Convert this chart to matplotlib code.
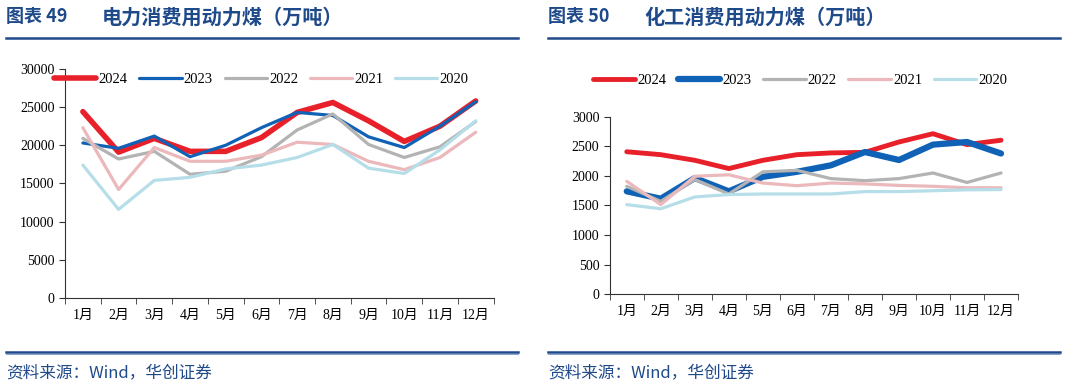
import matplotlib.pyplot as plt
from matplotlib.lines import Line2D

plt.rcParams['font.family'] = ['Liberation Serif', 'Noto Sans CJK SC']

months = [f"{i}月" for i in range(1, 13)]
years = ["2024", "2023", "2022", "2021", "2020"]

# 电力消费用动力煤（万吨）
power_2024 = [24400, 19100, 20900, 19200, 19200, 21000, 24300, 25600, 23200, 20500, 22500, 25800]
power_2023 = [20300, 19600, 21200, 18500, 20000, 22300, 24300, 23900, 21100, 19700, 22500, 25700]
power_2022 = [20900, 18200, 19200, 16200, 16600, 18500, 22000, 24100, 20100, 18400, 19800, 23100]
power_2021 = [22300, 14200, 19700, 17900, 17900, 18700, 20400, 20100, 17900, 16800, 18400, 21700]
power_2020 = [17400, 11600, 15400, 15800, 16900, 17400, 18400, 20100, 17000, 16300, 19400, 23200]

# 化工消费用动力煤（万吨）
chem_2024 = [2410, 2360, 2265, 2125, 2265, 2360, 2390, 2400, 2575, 2715, 2530, 2605]
chem_2023 = [1740, 1615, 1965, 1740, 1985, 2070, 2180, 2405, 2270, 2530, 2575, 2380]
chem_2022 = [1825, 1570, 1940, 1695, 2070, 2095, 1955, 1920, 1955, 2050, 1890, 2050]
chem_2021 = [1910, 1515, 1995, 2020, 1880, 1835, 1880, 1865, 1840, 1825, 1800, 1800]
chem_2020 = [1515, 1445, 1645, 1685, 1695, 1695, 1695, 1735, 1735, 1750, 1765, 1770]

colors = ["#E8202A", "#1062B6", "#B3B3B3", "#EBB8BB", "#B5DEE8"]
navy = "#1F4A8A"

fig = plt.figure(figsize=(10.66, 3.87), dpi=100)


def draw_panel(rect, series, widths, ylim, step, legend_xy):
    ax = fig.add_axes(rect)
    x = range(len(months))
    handles = []
    for vals, c, lw in zip(series, colors, widths):
        h, = ax.plot(x, vals, color=c, lw=lw, solid_capstyle='round')
        handles.append(h)
    ax.set_xlim(-0.5, len(months) - 0.5)
    ax.set_ylim(*ylim)
    ax.set_yticks(range(ylim[0], ylim[1] + 1, step))
    ax.set_xticks(x)
    ax.set_xticklabels(months)
    ax.set_xticks([i - 0.5 for i in range(len(months) + 1)], minor=True)
    ax.tick_params(axis='x', which='major', length=0, pad=8, labelsize=10)
    ax.tick_params(axis='x', which='minor', length=4, direction='out', color='#333333')
    ax.tick_params(axis='y', length=4, direction='out', labelsize=10, color='#333333')
    for s in ['top', 'right']:
        ax.spines[s].set_visible(False)
    for s in ['left', 'bottom']:
        ax.spines[s].set_color('#333333')
        ax.spines[s].set_linewidth(0.8)
    ax.legend(handles, years, loc='center', bbox_to_anchor=legend_xy,
              bbox_transform=ax.transAxes, ncol=5, frameon=False,
              handlelength=2.9, handletextpad=0.15, columnspacing=0.8,
              fontsize=10.5, borderpad=0, borderaxespad=0)
    return ax


draw_panel([0.061, 0.230, 0.402, 0.592],
           [power_2024, power_2023, power_2022, power_2021, power_2020],
           [4.0, 2.3, 2.3, 2.3, 2.3], (0, 30000), 5000, (0.458, 0.952))
draw_panel([0.572, 0.240, 0.383, 0.458],
           [chem_2024, chem_2023, chem_2022, chem_2021, chem_2020],
           [3.5, 4.5, 2.3, 2.3, 2.3], (0, 3000), 500, (0.466, 1.203))

# titles, rules and source notes
for x0, num, name in [(6, "图表 49", "电力消费用动力煤（万吨）"),
                      (548, "图表 50", "化工消费用动力煤（万吨）")]:
    fig.text(x0 / 1066, 1 - 17 / 387, num, color=navy, fontsize=13,
             fontweight='bold', va='center', family=['Noto Sans CJK SC'])
    fig.text((x0 + 96) / 1066, 1 - 17 / 387, name, color=navy, fontsize=14.5,
             fontweight='bold', va='center', family=['Noto Sans CJK SC'])

for x0, x1 in [(6, 518), (548, 1060)]:
    fig.add_artist(Line2D([x0 / 1066, x1 / 1066], [1 - 38 / 387] * 2,
                          color=navy, lw=1.8))
    fig.add_artist(Line2D([x0 / 1066, x1 / 1066], [1 - 351.5 / 387] * 2,
                          color=navy, lw=1.8))
    fig.add_artist(Line2D([x0 / 1066, x1 / 1066], [1 - 353.5 / 387] * 2,
                          color="#6F8FC0", lw=0.6))
    fig.text(x0 / 1066, 1 - 373 / 387, "资料来源：Wind，华创证券", color=navy,
             fontsize=12, style='italic', va='center',
             family=['Noto Sans CJK SC'])

fig.savefig("out.png", dpi=100)
